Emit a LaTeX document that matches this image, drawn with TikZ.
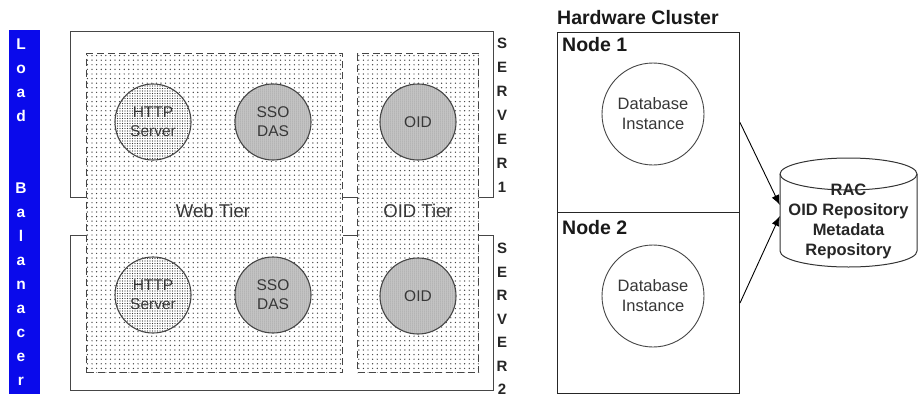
\documentclass[tikz,border=0pt]{standalone}
\usepackage{fontspec}
\setmainfont{Liberation Sans}
\usetikzlibrary{patterns.meta,arrows.meta}
\definecolor{lbblue}{RGB}{10,10,235}
\definecolor{edge}{RGB}{70,70,70}
\definecolor{txt}{RGB}{55,55,55}
\begin{document}
\begin{tikzpicture}[x=1pt,y=-1pt,
  serverbox/.style={draw=edge, line width=1.3pt, rectangle, anchor=north west, inner sep=0pt},
  tierbox/.style={draw=edge, dash pattern=on 7pt off 4pt, line width=1.1pt, rectangle, anchor=north west, inner sep=0pt,
    preaction={fill=white}, pattern={Dots[distance=4.6pt,radius=0.7pt]}, pattern color=black!75},
  httpcirc/.style={circle, draw=edge, line width=1.1pt, minimum size=76pt, inner sep=0pt, align=center,
    font=\fontsize{15.5}{19}\selectfont, text=txt,
    preaction={fill=white}, pattern={Dots[distance=2.5pt,radius=0.68pt]}, pattern color=black!80},
  ssocirc/.style={circle, draw=edge, line width=1.1pt, minimum size=76pt, inner sep=0pt, align=center,
    font=\fontsize{15.5}{19}\selectfont, text=txt,
    preaction={fill=black!20}, pattern={Dots[distance=2pt,radius=0.5pt]}, pattern color=black!60},
  dbcirc/.style={circle, draw=edge, line width=0.9pt, minimum size=102pt, inner sep=0pt, align=center,
    font=\fontsize{16.5}{20}\selectfont, text=txt, fill=white},
  nodebox/.style={draw=black!85, line width=1pt, rectangle, anchor=north west, inner sep=0pt},
  tierlabel/.style={font=\fontsize{18.5}{20}\selectfont, text=txt, inner sep=0pt},
  lbletter/.style={font=\bfseries\fontsize{15.5}{16}\selectfont, text=white, inner sep=0pt, anchor=base},
  srvletter/.style={font=\bfseries\fontsize{15}{16}\selectfont, text=black!85, inner sep=0pt, anchor=base},
  headtext/.style={font=\bfseries\fontsize{19.5}{20}\selectfont, text=black!90, inner sep=0pt, anchor=base west},
  arr/.style={draw=black, line width=0.9pt, -{Latex[length=10pt,width=8pt]}},
  cylline/.style={draw=black!80, line width=1pt, fill=white}
]
\useasboundingbox (0,0) rectangle (920,396);

% Load balancer
\node[rectangle, fill=lbblue, anchor=north west, minimum width=31pt, minimum height=364pt, inner sep=0pt] (lb) at (9,30) {};
\foreach \c/\i in {L/0,o/1,a/2,d/3,B/6,a/7,l/8,a/9,n/10,a/11,c/12,e/13,r/14}
  \node[lbletter] (lb\i) at (21,{49.5+24*\i}) {\c};

% Server frames
\node[serverbox, minimum width=423pt, minimum height=166pt] (srv1) at (70,31) {};
\node[serverbox, minimum width=423pt, minimum height=155pt] (srv2) at (70,235) {};

% Tiers
\node[tierbox, minimum width=256pt, minimum height=319pt] (web) at (86,53) {};
\node[tierbox, minimum width=121pt, minimum height=319pt] (oidt) at (357,53) {};
\node[tierlabel] (weblbl) at (213,211) {Web Tier};
\node[tierlabel] (oidlbl) at (418,211) {OID Tier};

% Circles
\node[httpcirc] (http1) at (153,122) {HTTP\\Server};
\node[ssocirc] (sso1) at (273,122) {SSO\\DAS};
\node[httpcirc] (http2) at (153,295) {HTTP\\Server};
\node[ssocirc] (sso2) at (273,295) {SSO\\DAS};
\node[ssocirc] (oid1) at (418,122) {OID};
\node[ssocirc] (oid2) at (418,296) {OID};

% SERVER labels
\foreach \c [count=\i from 0] in {S,E,R,V,E,R,1}
  \node[srvletter] (sa\i) at (502,{48.5+24*\i}) {\c};
\foreach \c [count=\i from 0] in {S,E,R,V,E,R,2}
  \node[srvletter] (sb\i) at (502,{253.5+23.5*\i}) {\c};

% Hardware cluster
\node[headtext] (hwc) at (557,25) {Hardware Cluster};
\node[nodebox, minimum width=182pt, minimum height=180pt] (n1) at (557,32) {};
\node[nodebox, minimum width=182pt, minimum height=181pt] (n2) at (557,212) {};
\node[headtext] (n1lbl) at (562,52) {Node 1};
\node[headtext] (n2lbl) at (562,234) {Node 2};
\node[dbcirc] (db1) at (653,114) {Database\\Instance};
\node[dbcirc] (db2) at (653,296) {Database\\Instance};

% RAC cylinder
\node[rectangle, minimum width=137pt, minimum height=109pt, inner sep=0pt] (rac) at (848.5,212.5) {};
\draw[cylline] (780,174) -- (780,251) arc[start angle=180, end angle=360, x radius=68.5, y radius=-16] -- (917,174)
  arc[start angle=0, end angle=-180, x radius=68.5, y radius=16] -- cycle;
\draw[cylline, fill=none] (780,174) arc[start angle=180, end angle=360, x radius=68.5, y radius=-16];
\node[font=\bfseries\fontsize{16.5}{20}\selectfont, text=black!85, align=center, inner sep=0pt] (ractxt) at (848.5,221)
  {RAC\\OID Repository\\Metadata\\Repository};

% Arrows
\draw[arr] (n1.east) -- ([yshift=7.5pt]rac.west);
\draw[arr] (n2.east) -- ([yshift=-3.5pt]rac.west);
\end{tikzpicture}
\end{document}
